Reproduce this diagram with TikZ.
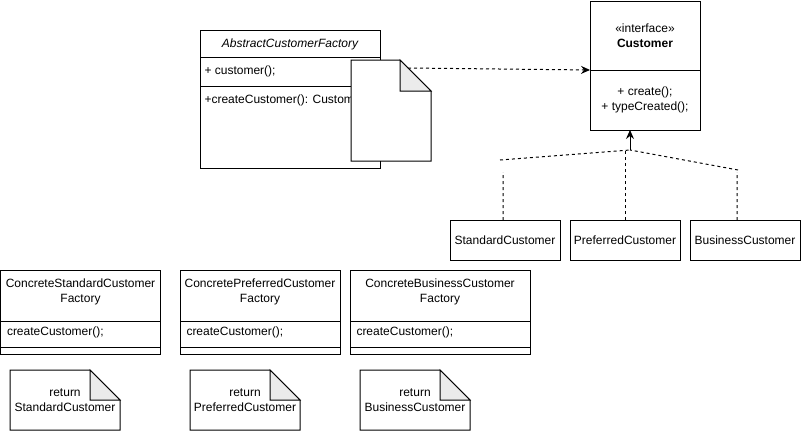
\documentclass[tikz,border=0pt]{standalone}
\usepackage{fontspec}
\setmainfont{Liberation Sans}
\usepackage{xcolor}
\definecolor{foldgray}{HTML}{EBEBEB}
\usepackage{tikz}
\usetikzlibrary{
  arrows.meta,
  positioning,
  calc
}

% outline of a note node with a folded corner
\newcommand{\dogear}[2]{%
  \draw[line join=miter] (#1.north west) -- ($(#1.north east)+(-#2,0)$) -- ($(#1.north east)+(0,#2)$) -- (#1.south east) -- (#1.south west) -- cycle;
  \filldraw[fill=foldgray, line join=miter] ($(#1.north east)+(-#2,0)$) -- ($(#1.north east)+(-#2,#2)$) -- ($(#1.north east)+(0,#2)$) -- cycle;
}

\begin{document}
\begin{tikzpicture}[
  x=1pt, y=-1pt,
  line width=1pt,
  every node/.style={font=\fontsize{12}{15}\selectfont},
  box/.style={draw, line width=1pt, fill=white, inner sep=0pt, outer sep=0pt},
  cls/.style={box, minimum width=110pt, minimum height=40pt},
  fac/.style={box, minimum height=84pt, anchor=north west},
  txt/.style={inner sep=0pt, align=center},
  note/.style={fill=white, inner sep=0pt, outer sep=0pt, align=center, minimum width=110pt, minimum height=60pt},
  real/.style={dash pattern=on 3pt off 3pt},
  dep/.style={-{Stealth[length=9pt, width=8pt, inset=3pt]}, dash pattern=on 3pt off 3pt},
  arr/.style={-{Stealth[length=9pt, width=8pt, inset=3pt]}},
]
\useasboundingbox (0,0) rectangle (801,431);

% abstract factory
\node[box, minimum width=180pt, minimum height=138pt, anchor=north west] (abs) at (200,30) {};
\draw ($(abs.north west)+(0,27)$) -- ($(abs.north east)+(0,27)$);
\draw ($(abs.north west)+(0,56)$) -- ($(abs.north east)+(0,56)$);
\node[txt, font=\fontsize{12}{15}\selectfont\itshape] (absname) at ($(abs.north)+(0,14)$) {AbstractCustomerFactory};
\node[txt, anchor=west] (absattr) at ($(abs.north west)+(4,41)$) {+ customer();};
\node[txt, anchor=west] (absop) at ($(abs.north west)+(4,70)$) {+createCustomer(): Customer};

\node[note, minimum width=80pt, minimum height=101pt, anchor=north west] (doc) at (351,60) {};
\dogear{doc}{31}

% interface
\node[box, minimum width=110pt, minimum height=129pt, anchor=north west] (cust) at (590,1) {};
\draw ($(cust.north west)+(0,69)$) coordinate (custmid) -- ($(cust.north east)+(0,69)$);
\node[txt] (custname) at ($(cust.north)+(0,34.5)$) {«interface»\\\textbf{Customer}};
\node[txt] (custops) at ($(cust.north)+(0,99)$) {+ create();\\+ typeCreated();};

\node[cls, anchor=north west] (std) at (450,220) {StandardCustomer};
\node[cls, right=10pt of std] (pref) {PreferredCustomer};
\node[cls, right=10pt of pref] (bus) {BusinessCustomer};

% concrete factories
\node[fac, minimum width=160pt] (csf) at (0.5,270) {};
\node[fac, minimum width=160pt, right=19.5pt of csf] (cpf) {};
\node[fac, minimum width=180pt, right=10pt of cpf] (cbf) {};
\node[txt] (csfname) at ($(csf.north)+(0,22)$) {ConcreteStandardCustomer\\Factory};
\node[txt] (cpfname) at ($(cpf.north)+(0,22)$) {ConcretePreferredCustomer\\Factory};
\node[txt] (cbfname) at ($(cbf.north)+(0,22)$) {ConcreteBusinessCustomer\\Factory};
\foreach \f in {csf,cpf,cbf} {
  \draw ($(\f.north west)+(0,51)$) -- ($(\f.north east)+(0,51)$);
  \draw ($(\f.north west)+(0,77)$) -- ($(\f.north east)+(0,77)$);
  \node[txt, anchor=west] (\f op) at ($(\f.north west)+(6,62)$) {createCustomer();};
}

\node[note, anchor=north west] (rstd) at (10,370) {return\\StandardCustomer};
\node[note, right=70pt of rstd] (rpref) {return\\PreferredCustomer};
\node[note, right=60pt of rpref] (rbus) {return\\BusinessCustomer};
\foreach \n in {rstd,rpref,rbus} {\dogear{\n}{30}}

% connectors
\coordinate (docout) at ($(doc.north east)+(-23,8)$);
\draw[dep] (docout) -- (custmid);

\coordinate (hub) at (630,150);
\coordinate (lbend) at (500,160);
\coordinate (rbend) at (738,170);
\draw[arr] (hub) -- (hub |- cust.south);
\draw[real] ($(std.north)+(-2,0)$) -- ++(0,-48) (lbend) -- (hub);
\draw[real] (pref.north) -- (pref.north |- hub);
\draw[real] ($(bus.north)+(-8,0)$) -- ++(0,-48) (rbend) -- (hub);

\end{tikzpicture}
\end{document}
